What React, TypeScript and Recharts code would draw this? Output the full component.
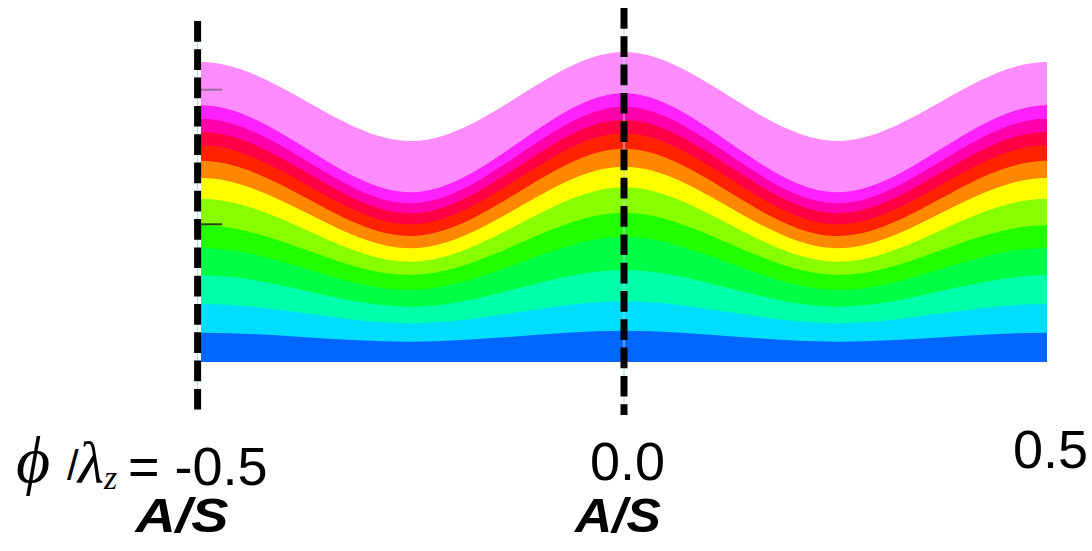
import { ComposedChart, Area, XAxis, YAxis, ReferenceLine } from "recharts";

// phase across one axial wavelength, φ/λz (one sample either side of the
// visible window keeps the curve ends level; those are clipped away)
const phase = [-0.625, -0.5, -0.375, -0.25, -0.125, 0, 0.125, 0.25, 0.375, 0.5, 0.625];

// upper edge of every layer above the flat base, bottom layer first
const layerBlue = [2.48, 2.93, 2.48, 2.03, 2.58, 3.13, 2.58, 2.03, 2.48, 2.93, 2.48];
const layerSky = [4.84, 5.8, 4.84, 3.87, 4.97, 6.07, 4.97, 3.87, 4.84, 5.8, 4.84];
const layerAqua = [7.1, 8.67, 7.1, 5.53, 7.37, 9.2, 7.37, 5.53, 7.1, 8.67, 7.1];
const layerSpring = [9.3, 11.4, 9.3, 7.2, 9.87, 12.53, 9.87, 7.2, 9.3, 11.4, 9.3];
const layerGreen = [11.19, 13.67, 11.19, 8.7, 11.82, 14.93, 11.82, 8.7, 11.19, 13.67, 11.19];
const layerLime = [13.18, 16.33, 13.18, 10.03, 13.75, 17.47, 13.75, 10.03, 13.18, 16.33, 13.18];
const layerYellow = [14.89, 18.4, 14.89, 11.37, 15.45, 19.53, 15.45, 11.37, 14.89, 18.4, 14.89];
const layerOrange = [16.37, 20.13, 16.37, 12.6, 16.97, 21.33, 16.97, 12.6, 16.37, 20.13, 16.37];
const layerRed = [17.72, 21.67, 17.72, 13.77, 18.32, 22.87, 18.32, 13.77, 17.72, 21.67, 17.72];
const layerCrimson = [18.94, 23.0, 18.94, 14.87, 19.54, 24.2, 19.54, 14.87, 18.94, 23.0, 18.94];
const layerRose = [20.1, 24.33, 20.1, 15.87, 20.7, 25.53, 20.7, 15.87, 20.1, 24.33, 20.1];
const layerMagenta = [21.32, 25.67, 21.32, 16.97, 21.92, 26.87, 21.92, 16.97, 21.32, 25.67, 21.32];
const layerPink = [26.05, 30.0, 26.05, 22.1, 26.55, 31.0, 26.55, 22.1, 26.05, 30.0, 26.05];

const layerColors = [
  "#0066ff", "#00ddff", "#00ffaa", "#00ff44", "#22ff00", "#88ff00", "#ffff00",
  "#ff8800", "#ff2200", "#ff0044", "#ff00aa", "#ff22ff", "#ff8cff",
];

// A/S cut positions and how far each dashed line runs
const cutX = [-0.504, 0];
const cutTop = [34.1, 35.4];
const cutBottom = [-4.8, -5.3];

// little level marks on the left edge
const markLevels = [27.23, 13.77];
const markColors = ["#9b6c9f", "#224411"];

const tickValues = [-0.5, 0, 0.5];
const tickLabels = ["-0.5", "0.0", "0.5"];
const siteLabels = ["A/S", "A/S", ""];

const layers = [
  layerBlue, layerSky, layerAqua, layerSpring, layerGreen, layerLime, layerYellow,
  layerOrange, layerRed, layerCrimson, layerRose, layerMagenta, layerPink,
];

const rows = phase.map((x, i) => {
  const row: Record<string, number> = { x };
  layers.forEach((vals, k) => {
    row[`l${k}`] = vals[i];
  });
  return row;
});

const SANS = "'Liberation Sans', Arial, sans-serif";
const SERIF = "'Liberation Serif', 'Times New Roman', serif";

// label placement relative to each tick (dx of number centre, baseline dy, A/S dx, A/S width)
const labelPos = [
  { dx: 20, dy: 85, sdx: -19, sw: 93 },
  { dx: 3.5, dy: 80, sdx: -6, sw: 86 },
  { dx: 3.5, dy: 68, sdx: 0, sw: 0 },
];

const PhaseTick = (props: any) => {
  const { x, y, payload } = props;
  const i = tickValues.indexOf(payload.value);
  if (i < 0) return null;
  const p = labelPos[i];
  return (
    <g>
      {i === 0 && (
        <g fill="#000">
          <text x={16} y={y + 82} fontFamily={SERIF} fontStyle="italic" fontSize={66}>ϕ</text>
          <text x={67} y={y + 80} fontFamily={SANS} fontSize={42}>/</text>
          <text x={78} y={y + 83} fontFamily={SERIF} fontStyle="italic" fontSize={60}>λ</text>
          <text x={104} y={y + 89} fontFamily={SERIF} fontStyle="italic" fontSize={34}>z</text>
          <text x={128} y={y + 85} fontFamily={SANS} fontSize={54}>=</text>
        </g>
      )}
      <text x={x + p.dx} y={y + p.dy} textAnchor="middle" fontFamily={SANS} fontSize={54} fill="#000">
        {tickLabels[i]}
      </text>
      {siteLabels[i] && (
        <text
          x={x + p.sdx}
          y={y + 132}
          textAnchor="middle"
          fontFamily={SANS}
          fontWeight="bold"
          fontStyle="italic"
          fontSize={48}
          textLength={p.sw}
          lengthAdjust="spacingAndGlyphs"
          fill="#000"
        >
          {siteLabels[i]}
        </text>
      )}
    </g>
  );
};

export default function App() {
  return (
    <div style={{ position: "absolute", left: 0, top: 0, background: "#fff" }}>
      <ComposedChart width={1092} height={551} data={rows} margin={{ top: 0, right: 45, left: 201, bottom: 0 }}>
        <XAxis
          dataKey="x"
          type="number"
          domain={[-0.5, 0.5]}
          ticks={tickValues}
          interval={0}
          axisLine={false}
          tickLine={false}
          tickSize={0}
          tickMargin={0}
          height={151}
          allowDataOverflow
          tick={(p: any) => <PhaseTick {...p} />}
        />
        <YAxis hide type="number" domain={[-3.8, 36.2]} allowDataOverflow />
        {/* widest layer first so each narrower one paints over it */}
        {layers
          .map((_, k) => k)
          .reverse()
          .map((k) => (
            <Area
              key={k}
              type="natural"
              dataKey={`l${k}`}
              stroke="none"
              fill={layerColors[k]}
              fillOpacity={1}
              isAnimationActive={false}
              dot={false}
              activeDot={false}
            />
          ))}
        {markLevels.map((lv, i) => (
          <ReferenceLine
            key={`m${i}`}
            segment={[{ x: -0.5, y: lv }, { x: -0.475, y: lv }]}
            stroke={markColors[i]}
            strokeWidth={2}
            ifOverflow="visible"
          />
        ))}
        {cutX.map((cx, i) => (
          <ReferenceLine
            key={`u${i}`}
            segment={[{ x: cx, y: cutTop[i] }, { x: cx, y: cutBottom[i] }]}
            stroke="#a6d6e6"
            strokeWidth={1}
            ifOverflow="visible"
          />
        ))}
        {cutX.map((cx, i) => (
          <ReferenceLine
            key={`c${i}`}
            segment={[{ x: cx, y: cutTop[i] }, { x: cx, y: cutBottom[i] }]}
            stroke="#000"
            strokeWidth={7}
            strokeDasharray="20.7 7.6"
            ifOverflow="visible"
          />
        ))}
      </ComposedChart>
    </div>
  );
}
